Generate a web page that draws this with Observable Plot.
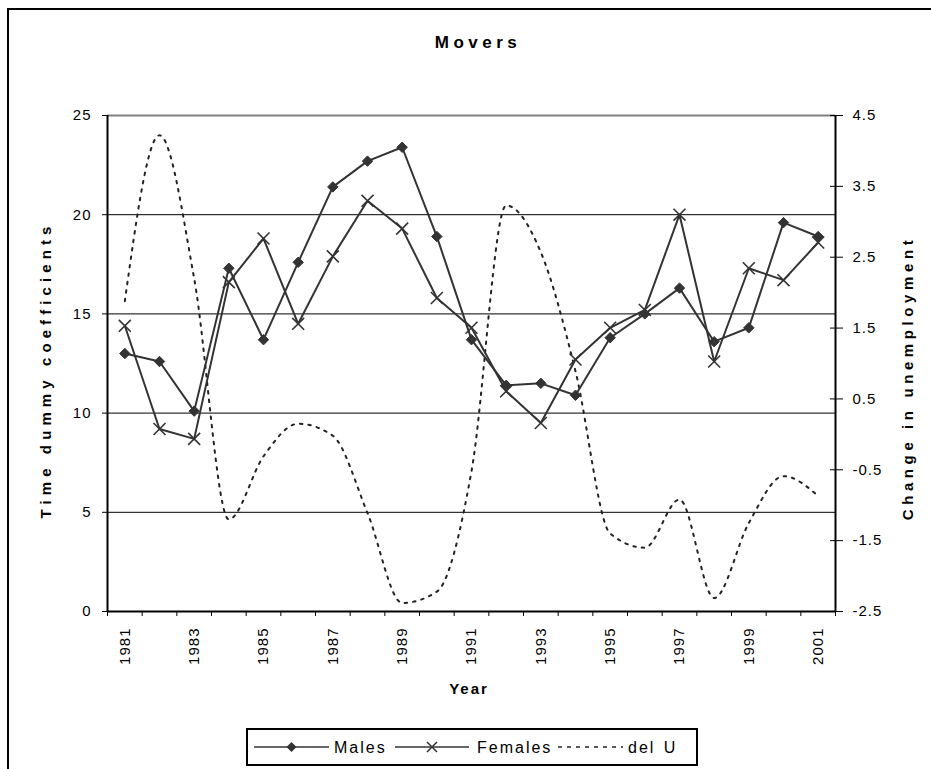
<!DOCTYPE html>
<html>
<head>
<meta charset="utf-8">
<script src="https://cdn.jsdelivr.net/npm/d3@7"></script>
<script src="https://cdn.jsdelivr.net/npm/@observablehq/plot@0.6"></script>
<style>
  body { margin: 0; background: #fff; font-family: "Liberation Sans", Arial, sans-serif; }
  #wrap { position: relative; width: 931px; height: 769px; overflow: hidden; background: #fff; }
  #frame { position: absolute; left: 7px; top: 8px; width: 1000px; height: 1000px;
           border-left: 2px solid #000; border-top: 2px solid #000; }
  #chart { position: absolute; left: 0; top: 0; }
  .lab { position: absolute; font-weight: bold; color: #000; white-space: nowrap; line-height: 1; }
  .rot { transform: translate(-50%, -50%) rotate(-90deg); }
  .ctr { transform: translate(-50%, -50%); }
  #legend { position: absolute; left: 246px; top: 728px; }
</style>
</head>
<body>
<div id="wrap">
  <div id="frame"></div>
  <div id="chart"></div>
  <div class="lab ctr" style="left:478px; top:42px; font-size:17px; letter-spacing:4.5px;">Movers</div>
  <div class="lab rot" style="left:45px; top:370px; font-size:15px; letter-spacing:5.1px;">Time dummy coefficients</div>
  <div class="lab rot" style="left:907px; top:378px; font-size:15px; letter-spacing:4.6px;">Change in unemployment</div>
  <div class="lab ctr" style="left:469px; top:688px; font-size:15px; letter-spacing:2px;">Year</div>
  <div id="legend"></div>
</div>
<script>
// ---- data ----
const years = [1981, 1982, 1983, 1984, 1985, 1986, 1987, 1988, 1989, 1990, 1991,
               1992, 1993, 1994, 1995, 1996, 1997, 1998, 1999, 2000, 2001];
const males = [13.0, 12.6, 10.1, 17.3, 13.7, 17.6, 21.4, 22.7, 23.4, 18.9, 13.7,
               11.4, 11.5, 10.9, 13.8, 15.0, 16.3, 13.6, 14.3, 19.6, 18.9];
const females = [14.4, 9.2, 8.7, 16.6, 18.8, 14.5, 17.9, 20.7, 19.3, 15.8, 14.3,
                 11.1, 9.5, 12.7, 14.3, 15.2, 20.0, 12.6, 17.3, 16.7, 18.6];
const delU = [1.88, 4.22, 2.2, -1.2, -0.31, 0.15, -0.02, -1.11, -2.38, -2.22, -0.52,
              3.23, 2.57, 0.89, -1.4, -1.6, -0.92, -2.31, -1.25, -0.59, -0.87];
const leftTicks = [0, 5, 10, 15, 20, 25];
const rightTicks = [-2.5, -1.5, -0.5, 0.5, 1.5, 2.5, 3.5, 4.5];
const yearLabels = [1981, 1983, 1985, 1987, 1989, 1991, 1993, 1995, 1997, 1999, 2001];
const seriesNames = ["Males", "Females", "del U"];

// ---- derived ----
const lMin = leftTicks[0], lMax = leftTicks[leftTicks.length - 1];
const rMin = rightTicks[0], rMax = rightTicks[rightTicks.length - 1];
const toLeft = v => lMin + (v - rMin) * (lMax - lMin) / (rMax - rMin);
const toRight = v => rMin + (v - lMin) * (rMax - rMin) / (lMax - lMin);
const rows = years.map((yr, i) => ({year: yr, males: males[i], females: females[i], delU: delU[i]}));
const boundaries = [...years.map(y => y - 0.5), years[years.length - 1] + 0.5];
const gridVals = leftTicks.slice(1, -1);
const ink = "#333";

const chart = Plot.plot({
  width: 931,
  height: 769,
  marginLeft: 107,
  marginRight: 96,
  marginTop: 115,
  marginBottom: 158,
  style: {fontFamily: "'Liberation Sans', Arial, sans-serif", fontSize: "15px",
          background: "transparent", color: "#000", letterSpacing: "1px"},
  x: {type: "linear", domain: [boundaries[0], boundaries[boundaries.length - 1]]},
  y: {domain: [lMin, lMax]},
  marks: [
    Plot.ruleY(gridVals, {stroke: "#000", strokeWidth: 1}),
    Plot.ruleY([lMax], {stroke: "#808080", strokeWidth: 2}),
    Plot.line(rows, {x: "year", y: d => toLeft(d.delU), curve: "monotone-x",
                     stroke: "#222", strokeWidth: 2, strokeDasharray: "2.5,6"}),
    Plot.line(rows, {x: "year", y: "males", stroke: ink, strokeWidth: 2}),
    Plot.line(rows, {x: "year", y: "females", stroke: ink, strokeWidth: 2}),
    Plot.dot(rows, {x: "year", y: "males", symbol: "diamond2", fill: ink, stroke: ink, strokeWidth: 1, r: 4.7}),
    Plot.dot(rows, {x: "year", y: "females", symbol: "times", stroke: ink, strokeWidth: 1.6, r: 5.5}),
    Plot.ruleX([boundaries[0]], {stroke: "#000", strokeWidth: 2}),
    Plot.ruleX([boundaries[boundaries.length - 1]], {stroke: "#000", strokeWidth: 2}),
    Plot.ruleY([lMin], {stroke: "#000", strokeWidth: 2}),
    Plot.axisY({ticks: leftTicks, tickSize: 5, tickPadding: 11, label: null, tickFormat: d => String(d)}),
    Plot.axisY({anchor: "right", ticks: rightTicks.map(toLeft), tickSize: 7, tickPadding: 10, label: null,
                tickFormat: v => toRight(v).toFixed(1)}),
    Plot.axisY({anchor: "right", ticks: rightTicks.map(toLeft), tickSize: 6, dx: -6, label: null,
                tickFormat: () => ""}),
    Plot.axisX({ticks: boundaries, tickSize: 5, label: null, tickFormat: () => ""}),
    Plot.axisX({ticks: yearLabels, tickSize: 0, tickPadding: 16, tickRotate: -90, label: null,
                tickFormat: d => String(d)})
  ]
});
document.getElementById("chart").appendChild(chart);

// ---- legend ----
const lg = d3.select("#legend").append("svg").attr("width", 452).attr("height", 38)
  .style("font-family", "'Liberation Sans', Arial, sans-serif").style("overflow", "visible");
lg.append("rect").attr("x", 1).attr("y", 1).attr("width", 450).attr("height", 36)
  .attr("fill", "#fff").attr("stroke", "#000").attr("stroke-width", 2);
const cy = 19;
const items = [
  {name: seriesNames[0], x0: 8, x1: 83, sym: "diamond", tx: 88},
  {name: seriesNames[1], x0: 149, x1: 223, sym: "times", tx: 231},
  {name: seriesNames[2], x0: 312, x1: 377, sym: null, tx: 382}
];
items.forEach(it => {
  lg.append("line").attr("x1", it.x0).attr("x2", it.x1).attr("y1", cy).attr("y2", cy)
    .attr("stroke", it.sym ? ink : "#222").attr("stroke-width", it.sym ? 1.6 : 1.5)
    .attr("stroke-dasharray", it.sym ? null : "4,5");
  const mx = (it.x0 + it.x1) / 2;
  if (it.sym === "diamond") {
    lg.append("path").attr("d", `M${mx},${cy - 5}L${mx + 5},${cy}L${mx},${cy + 5}L${mx - 5},${cy}Z`).attr("fill", ink);
  } else if (it.sym === "times") {
    lg.append("path").attr("d", `M${mx - 5},${cy - 5}L${mx + 5},${cy + 5}M${mx - 5},${cy + 5}L${mx + 5},${cy - 5}`)
      .attr("stroke", ink).attr("stroke-width", 1.5);
  }
  lg.append("text").attr("x", it.tx).attr("y", cy).attr("dy", "0.35em")
    .attr("font-size", 16).attr("letter-spacing", "2px").attr("word-spacing", "2px")
    .text(it.name);
});
</script>
</body>
</html>
